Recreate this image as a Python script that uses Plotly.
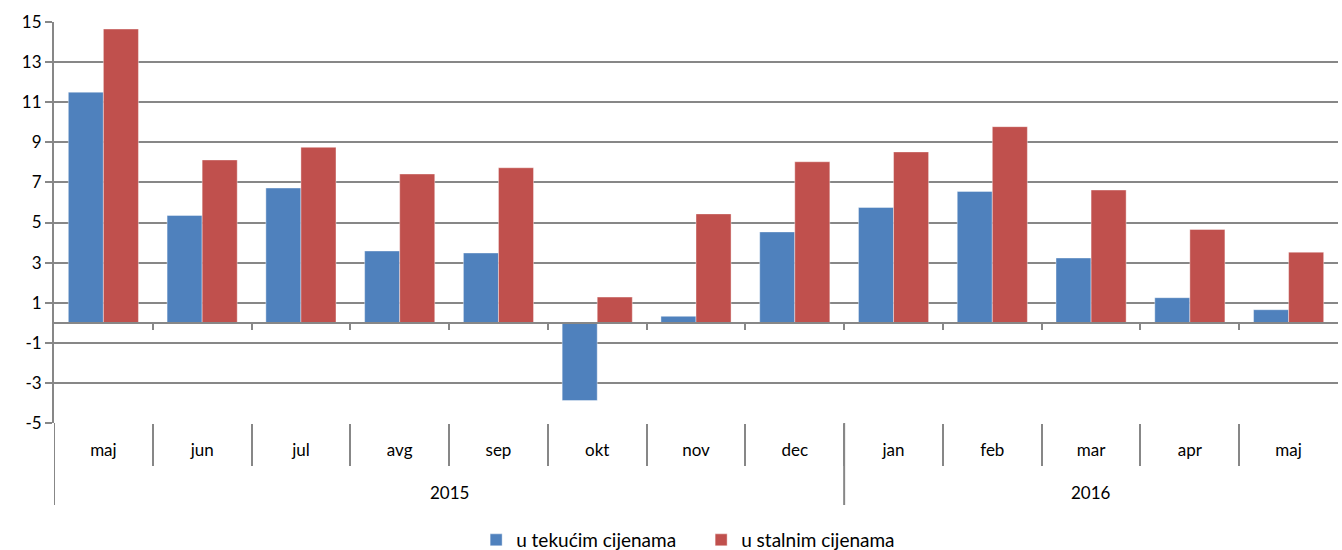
import plotly.graph_objects as go

months = ["maj", "jun", "jul", "avg", "sep", "okt", "nov", "dec",
          "jan", "feb", "mar", "apr", "maj"]
years = ["2015", "2016"]
year_counts = [8, 5]
tekuce = [11.5, 5.35, 6.72, 3.58, 3.48, -3.88, 0.32, 4.53, 5.75, 6.55, 3.23, 1.25, 0.65]
stalne = [14.65, 8.12, 8.75, 7.42, 7.73, 1.28, 5.43, 8.03, 8.52, 9.78, 6.62, 4.65, 3.52]
y_ticks = [-5, -3, -1, 1, 3, 5, 7, 9, 11, 13, 15]
y_tick_labels = ["-5", "-3", "-1", "1", "3", "5", "7", "9", "11", "13", "15"]

GRID = "#878787"
FONT = "Lato"
n = len(months)
idx = list(range(n))

PLOT_H = 550 - 22 - 127
MONTH_BAND = 42
YEAR_BAND = 82

fig = go.Figure()
fig.add_trace(go.Bar(x=idx, y=tekuce, name="u tekućim cijenama",
                     marker=dict(color="#4F81BD", line=dict(width=0.8, color="rgba(255,255,255,0.5)"))))
fig.add_trace(go.Bar(x=idx, y=stalne, name="u stalnim cijenama",
                     marker=dict(color="#C0504D", line=dict(width=0.8, color="rgba(255,255,255,0.5)"))))
fig.add_trace(go.Scatter(x=[None], y=[None], xaxis="x2", showlegend=False, hoverinfo="skip"))

shapes = []
annotations = []
start = 0
bounds = [-0.5]
for yr, cnt in zip(years, year_counts):
    annotations.append(dict(x=start + (cnt - 1) / 2, xref="x", y=-69 / PLOT_H, yref="paper",
                            text=yr, showarrow=False, yanchor="middle",
                            font=dict(family=FONT, size=17, color="black")))
    start += cnt
    if start < n:
        bounds.append(start - 0.5)
for b in bounds:
    shapes.append(dict(type="line", xref="x", yref="paper", x0=b, x1=b,
                       y0=0, y1=-YEAR_BAND / PLOT_H, line=dict(color=GRID, width=2)))

fig.update_layout(
    width=1342, height=550,
    margin=dict(l=54, r=4, t=22, b=127),
    paper_bgcolor="white", plot_bgcolor="white",
    barmode="group", bargap=0.29, bargroupgap=0,
    font=dict(family=FONT, size=17, color="#000000"),
    shapes=shapes, annotations=annotations,
    xaxis=dict(
        range=[-0.5, n - 0.5], tickvals=idx, ticktext=months,
        showgrid=False, showline=False, zeroline=False, ticks="",
        ticklabelstandoff=15, automargin=False,
        tickfont=dict(family=FONT, size=17),
        minor=dict(tickvals=[i + 0.5 for i in range(n - 1)], ticks="outside",
                   ticklen=MONTH_BAND, tickcolor=GRID, tickwidth=2, showgrid=False),
    ),
    xaxis2=dict(
        overlaying="x", anchor="free", position=0.25,
        range=[-0.5, n - 0.5],
        tickvals=[i + 0.5 for i in range(n - 1)],
        showticklabels=False, ticks="outside", ticklen=6,
        tickcolor=GRID, tickwidth=2,
        showline=True, linecolor=GRID, linewidth=2,
        showgrid=False, zeroline=False, automargin=False,
    ),
    yaxis=dict(
        range=[-5, 15], tickvals=y_ticks, ticktext=y_tick_labels,
        showgrid=True, gridcolor=GRID, gridwidth=2,
        zeroline=False,
        showline=True, linecolor=GRID, linewidth=2,
        ticks="outside", ticklen=7, tickcolor=GRID, tickwidth=2,
        tickfont=dict(family=FONT, size=17), automargin=False,
    ),
    legend=dict(orientation="h", x=0.504, xanchor="center",
                yref="container", y=10 / 550, yanchor="middle",
                font=dict(family=FONT, size=19), itemwidth=30,
                entrywidth=180, traceorder="normal"),
)

fig.write_html("out.html",
               config={"displayModeBar": False},
               post_script="document.body.style.margin='0';document.body.style.overflow='hidden';")
